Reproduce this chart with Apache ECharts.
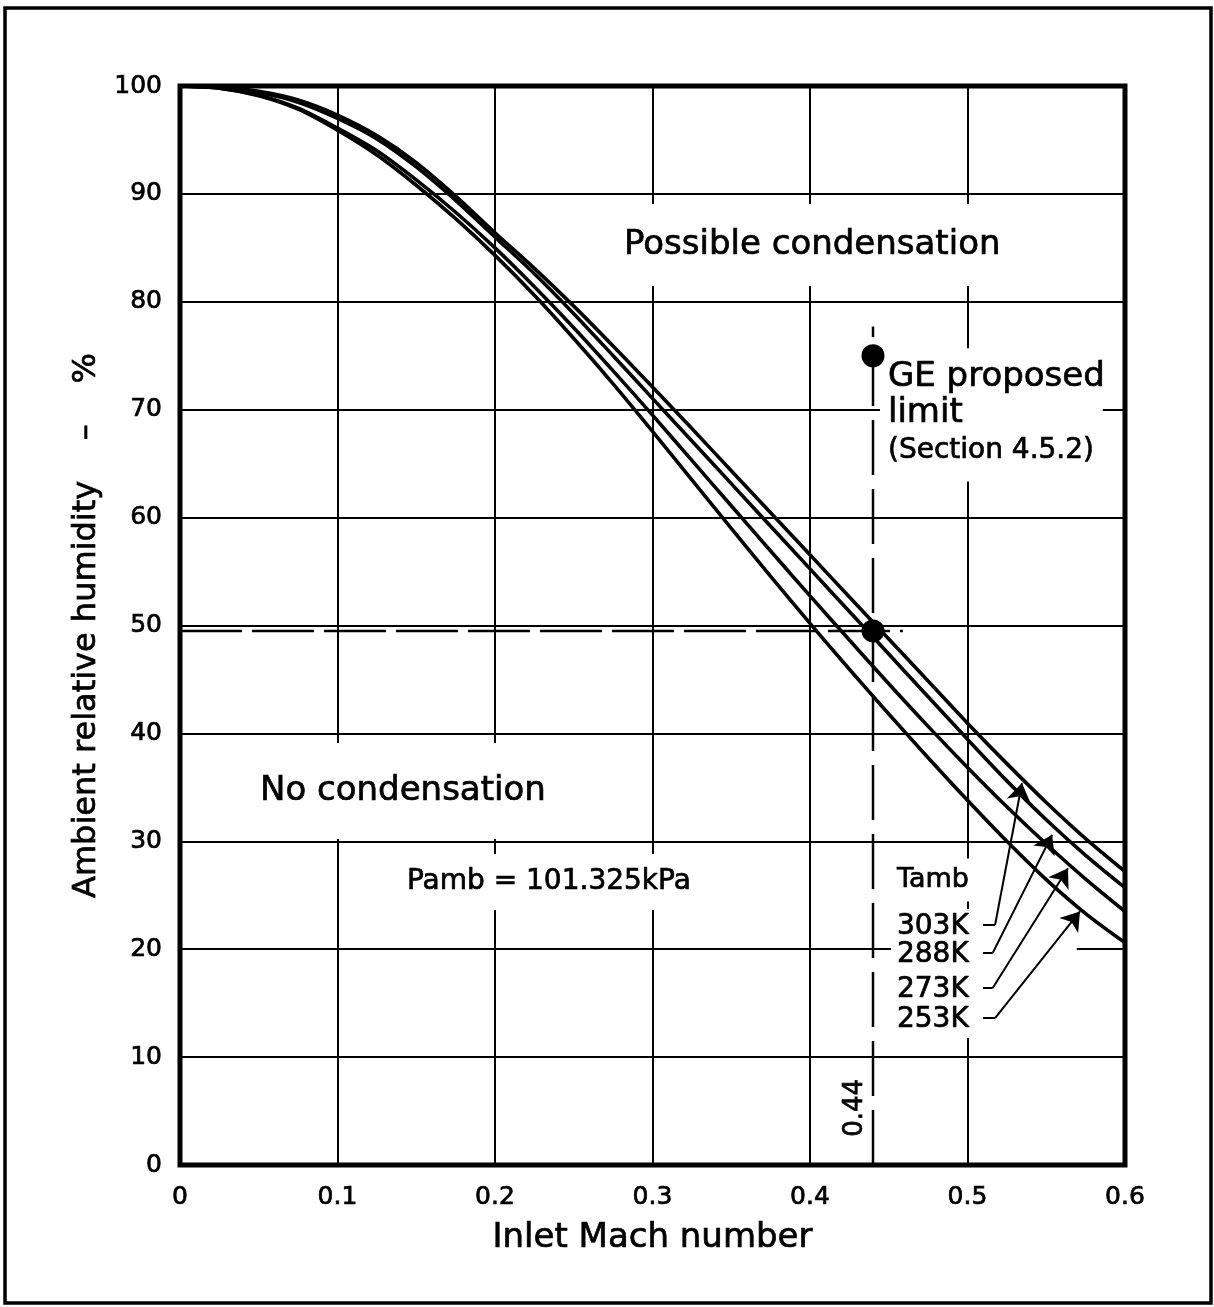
<!DOCTYPE html>
<html><head><meta charset="utf-8">
<script src="https://cdn.jsdelivr.net/npm/echarts@6.0.0/dist/echarts.min.js"></script>
<style>html,body{margin:0;padding:0;background:#fff}#c{width:1214px;height:1307px}</style>
</head><body><div id="c"></div>
<script>
// ---- data ----
const machNumbers = [0,0.025,0.05,0.075,0.1,0.125,0.15,0.175,0.2,0.225,0.25,0.275,0.3,0.325,0.35,0.375,0.4,0.425,0.45,0.475,0.5,0.525,0.55,0.575,0.6];
const rh303K = [100,99.9,99.5,98.7,97.3,95.4,92.9,89.8,86.4,83.1,79.6,75.9,72.1,68.25,64.35,60.45,56.55,52.65,48.75,44.85,40.95,37.2,33.6,30.25,27.2];
const rh288K = [100,99.85,99.4,98.5,97.0,95.1,92.5,89.4,86.0,82.6,78.9,75.0,71.05,67.1,63.15,59.2,55.25,51.3,47.35,43.4,39.45,35.6,32.0,28.7,25.7];
const rh273K = [100,99.8,99.15,97.95,96.1,94.0,91.3,88.3,85.0,81.4,77.6,73.6,69.5,65.3,61.1,56.9,52.75,48.65,44.6,40.65,36.85,33.2,29.75,26.5,23.5];
const rh253K = [100,99.8,99.1,97.85,95.9,93.6,90.8,87.7,84.3,80.6,76.6,72.4,68.0,63.5,59.0,54.55,50.2,45.95,41.8,37.75,33.8,30.0,26.45,23.3,20.6];
const seriesNames = ['303K','288K','273K','253K'];
const xTickValues = [0,0.1,0.2,0.3,0.4,0.5,0.6];
const yTickValues = [0,10,20,30,40,50,60,70,80,90,100];
const limitMach = 0.44;
const limitRH = 49.5;
const gePointRH = 75;

const FONT = 'DejaVu Sans';
const curves = [rh303K, rh288K, rh273K, rh253K];
const INK = {color:'#000', textBorderColor:'#000', textBorderWidth:0.7};

// annotation texts (data-coordinate anchors: left edge / vertical centre)
const annotations = [
  {t:'Possible condensation', x:0.2819, y:85.45, fs:34, pad:[20,10,28,8]},
  {t:'No condensation', x:0.0508, y:34.85, fs:34, pad:[30,8,32,8]},
  {t:'Pamb = 101.325kPa', x:0.1441, y:26.41, fs:28, pad:[14,8,14,8]},
  {t:'(Section 4.5.2)', x:0.4495, y:66.4, fs:28, pad:[0,8,34,8]},
  {t:'GE proposed', x:0.4495, y:73.2, fs:34, pad:[22,8,2,8]},
  {t:'limit', x:0.4495, y:69.9, fs:34, pad:[2,140,0,8]},
  {t:'Tamb', x:0.4552, y:26.6, fs:27, pad:[10,20,6,6]},
  {t:'303K', x:0.4552, y:22.24, fs:28, pad:[4,14,4,6]},
  {t:'288K', x:0.4552, y:19.65, fs:28, pad:[4,108,4,6]},
  {t:'273K', x:0.4552, y:16.4, fs:28, pad:[4,14,4,6]},
  {t:'253K', x:0.4552, y:13.62, fs:28, pad:[4,14,4,6]}
];
// leader ticks and arrows from the Tamb labels to the curves
const leaderTicks = [
  [[0.5098,22.24],[0.5175,22.24]],
  [[0.5098,19.65],[0.516,19.65]],
  [[0.5098,16.4],[0.516,16.4]],
  [[0.5098,13.62],[0.5175,13.62]]
];
const arrowLines = [
  [[0.5175,22.24],[0.5346,35.4]],
  [[0.516,19.65],[0.5537,30.6]],
  [[0.516,16.4],[0.5638,27.5]],
  [[0.5175,13.62],[0.5714,23.5]]
];

const chart = echarts.init(document.getElementById('c'), null, {renderer:'canvas'});

const series = [];
curves.forEach((arr, k) => {
  series.push({
    name: seriesNames[k], type:'line', smooth:0.3, symbol:'none', z:2,
    data: machNumbers.map((x,i)=>[x, arr[i]]),
    lineStyle:{color:'#000', width:3.6}
  });
});
series.push({
  type:'line', symbol:'none', z:2,
  data:[[limitMach,0],[limitMach,77.7]],
  lineStyle:{color:'#000', width:2.5, type:[55,14]}
});
series.push({
  type:'line', symbol:'none', z:2,
  data:[[0,limitRH],[0.459,limitRH]],
  lineStyle:{color:'#000', width:2.5, type:[62,10]}
});
series.push({
  type:'scatter', z:4, symbol:'circle', symbolSize:23,
  itemStyle:{color:'#000', opacity:1},
  data:[[limitMach,gePointRH],[limitMach,limitRH]]
});
series.push({
  type:'lines', coordinateSystem:'cartesian2d', z:3, symbol:'none',
  lineStyle:{color:'#000', width:2, opacity:1},
  data: leaderTicks.map(c=>({coords:c}))
});
series.push({
  type:'lines', coordinateSystem:'cartesian2d', z:3, symbol:['none','arrow'], symbolSize:[10,18],
  lineStyle:{color:'#000', width:2, opacity:1},
  itemStyle:{color:'#000', opacity:1},
  data: arrowLines.map(c=>({coords:c}))
});
series.push({
  type:'scatter', z:1, symbolSize:0, silent:true,
  itemStyle:{opacity:1},
  data: annotations.map(a=>({
    value:[a.x,a.y],
    label:Object.assign({
      show:true, position:'right', distance:0, formatter:a.t,
      fontFamily:FONT, fontSize:a.fs,
      backgroundColor:'#fff', padding:a.pad,
      offset:[-a.pad[3], 2]
    }, INK)
  }))
});
series.push({
  type:'scatter', z:3, symbolSize:0, silent:true,
  itemStyle:{opacity:1},
  data:[{value:[0.4285,5.3], label:Object.assign({show:true, position:'inside', rotate:90, formatter:'0.44', fontFamily:FONT, fontSize:26}, INK)}]
});

chart.setOption({
  animation:false,
  backgroundColor:'#fff',
  graphic:[{type:'rect', shape:{x:5,y:8,width:1206,height:1295}, style:{fill:'none', stroke:'#000', lineWidth:3.5}, z:0}],
  grid:{left:180, right:89, top:86, bottom:142, show:true, borderColor:'#000', borderWidth:5, backgroundColor:'transparent'},
  xAxis:{
    type:'value', min:xTickValues[0], max:xTickValues[xTickValues.length-1], interval:0.1,
    name:'Inlet Mach number', nameLocation:'middle', nameGap:56,
    nameTextStyle:Object.assign({fontFamily:FONT, fontSize:34}, INK),
    axisLine:{show:false}, axisTick:{show:false},
    axisLabel:Object.assign({margin:20, fontFamily:FONT, fontSize:25,
      formatter:v=>{ const r=Math.round(v*10)/10; return r===0?'0':r.toFixed(1);} }, INK),
    splitLine:{show:true, lineStyle:{color:'#000', width:2}}
  },
  yAxis:{
    type:'value', min:yTickValues[0], max:yTickValues[yTickValues.length-1], interval:10,
    name:'Ambient relative humidity    \u2013    %', nameLocation:'middle', nameGap:75,
    nameTextStyle:Object.assign({fontFamily:FONT, fontSize:32}, INK),
    axisLine:{show:false}, axisTick:{show:false},
    axisLabel:Object.assign({margin:18, fontFamily:FONT, fontSize:25}, INK),
    splitLine:{show:true, lineStyle:{color:'#000', width:2}}
  },
  series: series
});
</script></body></html>
